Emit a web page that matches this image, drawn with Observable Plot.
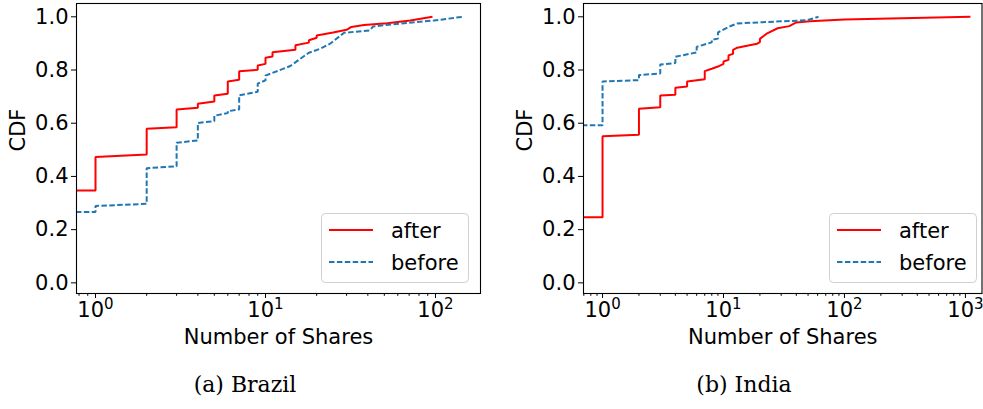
<!DOCTYPE html>
<html>
<head>
<meta charset="utf-8">
<script src="https://cdn.jsdelivr.net/npm/d3@7"></script>
<script src="https://cdn.jsdelivr.net/npm/@observablehq/plot@0.6"></script>
<style>
  html, body { margin: 0; padding: 0; background: #fff; }
  #wrap { position: relative; width: 983px; height: 409px; font-family: "DejaVu Sans", sans-serif; }
  .panel { position: absolute; top: 0; }
  .legend { position: absolute; }
  .caption { position: absolute; top: 372px; font-family: "DejaVu Serif", serif; font-size: 22px; color: #000; text-align: center; }
</style>
</head>
<body>
<div id="wrap"></div>
<script>
// ---- Data ----
const seriesNames = ["after", "before"];
const seriesColors = ["#ff0000", "#1f77b4"];
const xLabel = "Number of Shares";
const yLabel = "CDF";
const captions = ["(a) Brazil", "(b) India"];
const yTicks = [0, 0.2, 0.4, 0.6, 0.8, 1.0];

// Brazil (0.5 stands for zero shares, clipped at the left edge like matplotlib)
const brazilAfterShares = [0.5,1,1,2,2,3,3,4,4,5,5,6,6,7,7,9,9,10,10,11,11,15,15,18,18,20,20,25,30,32,38,52,71,96];
const brazilAfterCdf    = [0.347,0.347,0.473,0.482,0.579,0.585,0.652,0.658,0.673,0.682,0.704,0.711,0.757,0.763,0.795,0.801,0.817,0.823,0.846,0.851,0.867,0.876,0.893,0.903,0.912,0.921,0.930,0.941,0.951,0.962,0.969,0.976,0.986,1.0];
const brazilBeforeShares = [0.5,1,1,2,2,3,3,4,4,5,5,6,6,7,7,9,9,10,10,14,16,18,21,24,29,41,43,70,98,144];
const brazilBeforeCdf    = [0.266,0.266,0.289,0.297,0.431,0.438,0.527,0.535,0.601,0.608,0.628,0.638,0.645,0.652,0.705,0.718,0.749,0.761,0.779,0.815,0.842,0.865,0.880,0.899,0.940,0.949,0.964,0.978,0.986,1.0];

// India
const indiaAfterShares = [0.5,1,1,2,2,3,3,4,4,5,5,7,7,8,9,10,10,11,11,12,12,13,16,19,20,20,23,28,35,40,52,100,1100];
const indiaAfterCdf    = [0.247,0.247,0.551,0.557,0.654,0.660,0.704,0.707,0.733,0.738,0.757,0.765,0.796,0.805,0.813,0.823,0.832,0.838,0.855,0.861,0.876,0.884,0.892,0.899,0.905,0.917,0.938,0.957,0.965,0.979,0.983,0.990,1.0];
const indiaBeforeShares = [0.5,1,1,2,2,3,3,4,4,6,6,8,8,9,9,11,13,30,49,61];
const indiaBeforeCdf    = [0.592,0.592,0.757,0.762,0.781,0.787,0.821,0.826,0.850,0.866,0.887,0.904,0.914,0.918,0.941,0.962,0.975,0.983,0.987,1.0];

// ---- Helpers ----
const DASH = "5.5,2.4";
const powFormat = d => "10^" + Math.round(Math.log10(d));
function minorTicks(lo, hi) {
  const out = [];
  for (let e = -1; e <= 4; e++) for (let m = 2; m <= 9; m++) {
    const v = m * Math.pow(10, e);
    if (v >= lo && v <= hi) out.push(v);
  }
  return out;
}
function rows(xs, ys) { return xs.map((x, i) => ({x, y: ys[i]})); }

function superscripts(svg) {
  const ns = "http://www.w3.org/2000/svg";
  svg.querySelectorAll("text").forEach(t => {
    const s = t.textContent;
    const m = /^(\d+)\^(-?\d+)$/.exec(s);
    if (!m) return;
    t.textContent = "";
    const a = document.createElementNS(ns, "tspan");
    a.textContent = m[1];
    const b = document.createElementNS(ns, "tspan");
    b.textContent = m[2];
    b.setAttribute("font-size", "15");
    b.setAttribute("dy", "-0.55em");
    t.appendChild(a); t.appendChild(b);
  });
}

function panel({left, width, marginLeft, marginRight, xDomain, majors, after, before}) {
  const chart = Plot.plot({
    width, height: 350,
    marginLeft, marginRight, marginTop: 3, marginBottom: 57,
    style: {fontFamily: "DejaVu Sans", fontSize: "21px", color: "#000", background: "transparent"},
    x: {type: "log", domain: xDomain},
    y: {domain: [-0.04, 1.05]},
    marks: [
      Plot.line(after, {x: "x", y: "y", stroke: seriesColors[0], strokeWidth: 2, strokeLinecap: "butt", strokeLinejoin: "miter", clip: true}),
      Plot.line(before, {x: "x", y: "y", stroke: seriesColors[1], strokeWidth: 2, strokeDasharray: DASH, strokeLinecap: "butt", strokeLinejoin: "miter", clip: true}),
      Plot.frame({stroke: "#000", strokeWidth: 1.1}),
      Plot.axisY({ticks: yTicks, tickFormat: d3.format(".1f"), tickSize: 5, tickPadding: 3, fontSize: 21, label: null}),
      Plot.axisX({ticks: majors, tickFormat: powFormat, tickSize: 5, tickPadding: 4, fontSize: 21, label: null}),
      Plot.axisX({ticks: minorTicks(xDomain[0], xDomain[1]), tickFormat: () => "", tickSize: 2.8, label: null}),
      Plot.text([xLabel], {frameAnchor: "bottom", dy: 44, fontSize: 21, lineAnchor: "middle"}),
      Plot.text([yLabel], {frameAnchor: "left", dx: -58, dy: 3, rotate: -90, fontSize: 21, lineAnchor: "middle"})
    ]
  });
  superscripts(chart);
  chart.classList.add("panel");
  chart.style.left = left + "px";
  return chart;
}

function legend(left, top) {
  const ns = "http://www.w3.org/2000/svg";
  const svg = document.createElementNS(ns, "svg");
  svg.setAttribute("width", 149); svg.setAttribute("height", 71);
  svg.setAttribute("class", "legend");
  svg.style.left = left + "px"; svg.style.top = top + "px";
  svg.innerHTML = `
    <rect x="0.5" y="0.5" width="147" height="69" rx="4" ry="4" fill="rgba(255,255,255,0.8)" stroke="#d0d0d0" stroke-width="1"/>
    <line x1="8" x2="52" y1="17" y2="17" stroke="${seriesColors[0]}" stroke-width="2"/>
    <line x1="8" x2="52" y1="49" y2="49" stroke="${seriesColors[1]}" stroke-width="2" stroke-dasharray="${DASH}"/>
    <text x="70" y="17" dy="0.36em" font-family="DejaVu Sans" font-size="21" fill="#000">${seriesNames[0]}</text>
    <text x="70" y="49" dy="0.36em" font-family="DejaVu Sans" font-size="21" fill="#000">${seriesNames[1]}</text>`;
  return svg;
}

const wrap = document.getElementById("wrap");
wrap.appendChild(panel({
  left: 0, width: 490, marginLeft: 76, marginRight: 10,
  xDomain: [0.773, 184], majors: [1, 10, 100],
  after: rows(brazilAfterShares, brazilAfterCdf),
  before: rows(brazilBeforeShares, brazilBeforeCdf)
}));
wrap.appendChild(panel({
  left: 505, width: 478, marginLeft: 78, marginRight: 1.5,
  xDomain: [0.696, 1371], majors: [1, 10, 100, 1000],
  after: rows(indiaAfterShares, indiaAfterCdf),
  before: rows(indiaBeforeShares, indiaBeforeCdf)
}));
wrap.appendChild(legend(321, 213));
wrap.appendChild(legend(829, 213));

[[0, 490], [505, 478]].forEach(([l, w], i) => {
  const d = document.createElement("div");
  d.className = "caption";
  d.style.left = l + "px"; d.style.width = w + "px";
  d.textContent = captions[i];
  wrap.appendChild(d);
});
</script>
</body>
</html>
